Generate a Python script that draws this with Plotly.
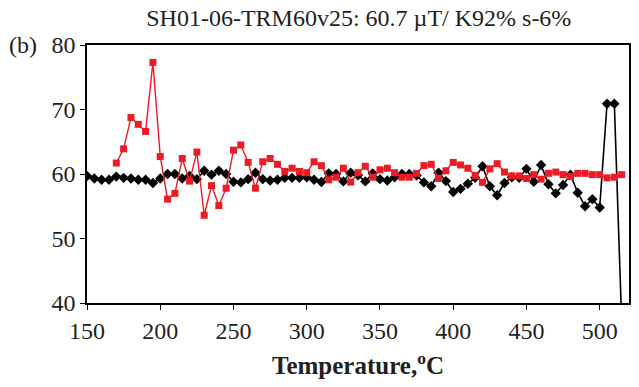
import plotly.graph_objects as go

black_t = list(range(150, 520, 5))
black_v = [59.7, 59.3, 59.1, 59.1, 59.6, 59.4, 59.3, 59.1, 59.1, 58.6,
           59.3, 60.0, 60.0, 59.3, 59.7, 59.2, 60.5, 59.9, 60.5, 60.0,
           58.8, 58.7, 59.2, 60.2, 59.2, 59.0, 59.1, 59.4, 59.4, 59.4,
           59.5, 59.1, 58.75, 60.1, 60.0, 58.85, 60.2, 59.8, 58.85, 60.1,
           59.2, 59.0, 59.5, 60.0, 60.0, 59.75, 58.7, 58.1, 60.2, 58.9,
           57.2, 57.7, 58.5, 59.4, 61.2, 58.1, 56.7, 58.6, 59.5, 59.4,
           60.8, 58.8, 61.4, 58.4, 57.0, 58.3, 59.9, 57.1, 55.0, 56.1,
           54.8, 70.9, 70.9, 37.0]

red_t = list(range(170, 520, 5))
red_v = [61.7, 63.9, 68.75, 67.7, 66.6, 77.3, 62.7, 56.1, 57.0, 62.4,
         58.9, 63.4, 53.6, 58.2, 55.1, 57.8, 63.7, 64.5, 61.8, 57.8,
         61.9, 62.4, 61.5, 60.4, 60.9, 60.4, 60.2, 61.9, 61.3, 59.1,
         59.5, 60.9, 58.75, 60.2, 61.2, 59.5, 60.65, 60.9, 60.2, 59.5,
         59.5, 60.1, 61.3, 61.5, 59.3, 60.5, 61.8, 61.4, 60.9, 59.8,
         58.7, 60.8, 61.6, 60.3, 59.7, 59.7, 59.3, 59.9, 59.2, 60.1,
         60.3, 59.9, 59.6, 60.1, 60.1, 59.9, 59.9, 59.4, 59.5, 59.9]

x_ticks = [150, 200, 250, 300, 350, 400, 450, 500]
y_ticks = [40, 50, 60, 70, 80]

FONT = "Liberation Serif"

fig = go.Figure()
fig.add_trace(go.Scatter(x=black_t, y=black_v, mode="lines+markers",
                         line=dict(color="black", width=1.6),
                         marker=dict(symbol="diamond", size=8, color="black"),
                         showlegend=False))
fig.add_trace(go.Scatter(x=red_t, y=red_v, mode="lines+markers",
                         line=dict(color="#ED1C24", width=1.4),
                         marker=dict(symbol="square", size=7, color="#ED1C24"),
                         showlegend=False))

fig.update_layout(
    width=639, height=387,
    margin=dict(l=87, r=8, t=45, b=84),
    paper_bgcolor="white", plot_bgcolor="white",
    font=dict(family=FONT, size=23, color="#231F20"),
    title=dict(text="SH01-06-TRM60v25: 60.7 \u00b5T/ K92% s-6%",
               x=0.5615, xanchor="center", y=0.975, yanchor="top",
               font=dict(family=FONT, size=24, color="#231F20")),
    xaxis=dict(range=[150, 520], tickvals=x_ticks, ticks="outside", ticklen=5,
               tickcolor="black", showline=True, linecolor="black", linewidth=1.5,
               mirror=True, showgrid=False, zeroline=False,
               tickfont=dict(family=FONT, size=24, color="#231F20"),
               title=dict(text="<b>Temperature,<sup>o</sup>C</b>", standoff=14,
                          font=dict(family=FONT, size=25, color="#231F20"))),
    yaxis=dict(range=[40, 80], tickvals=y_ticks, ticks="outside", ticklen=5,
               tickcolor="black", showline=True, linecolor="black", linewidth=1.5,
               mirror=True, showgrid=False, zeroline=False,
               tickfont=dict(family=FONT, size=24, color="#231F20")),
)
fig.add_annotation(text="(b)", xref="paper", yref="paper", x=-0.148, y=1.0,
                   xanchor="left", yanchor="middle", showarrow=False,
                   font=dict(family=FONT, size=24, color="#231F20"))

fig.write_html("out.html")
